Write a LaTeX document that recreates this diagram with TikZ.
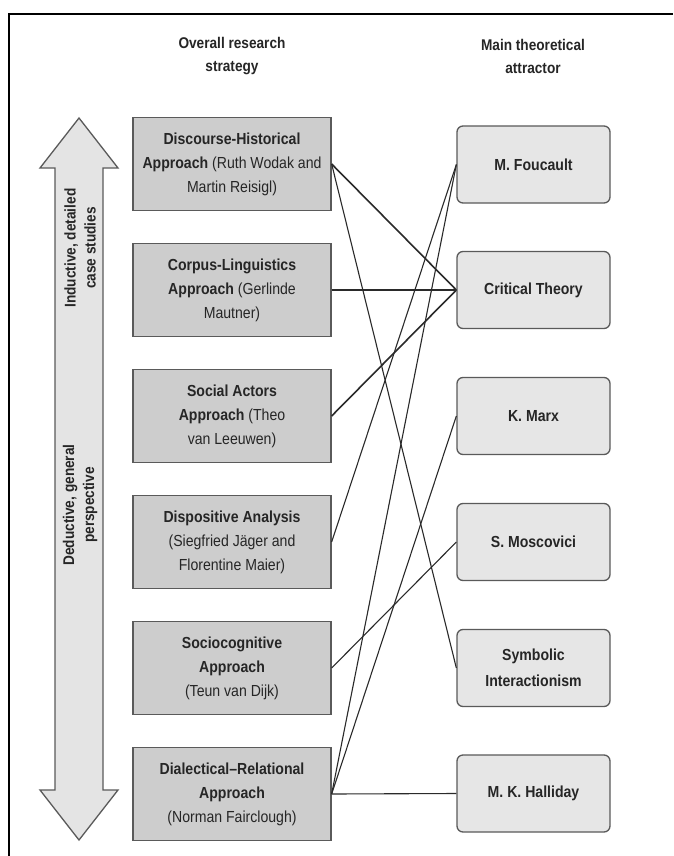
\documentclass[tikz,border=0pt]{standalone}
\usepackage{fontspec}
\setmainfont{Liberation Sans}[FakeStretch=0.88]
\definecolor{boxline}{HTML}{5A5A5A}
\definecolor{lboxfill}{HTML}{CDCDCD}
\definecolor{rboxfill}{HTML}{E6E6E6}
\definecolor{arrowfill}{HTML}{E4E4E4}
\definecolor{txt}{HTML}{262626}
\definecolor{conn}{HTML}{2A2A2A}
\begin{document}
\begin{tikzpicture}[x=1pt,y=-1pt,
  lbox/.style={draw=boxline, fill=lboxfill, line width=1.3pt, minimum width=198pt, minimum height=93pt, inner sep=0pt, align=center, text=txt, font=\fontsize{16}{24}\selectfont},
  rbox/.style={draw=boxline, fill=rboxfill, line width=1.3pt, rounded corners=6pt, minimum width=153pt, minimum height=77pt, inner sep=0pt, align=center, text=txt, font=\fontsize{16}{26}\selectfont\bfseries},
  head/.style={align=center, text=txt, font=\fontsize{15.5}{23}\selectfont\bfseries},
  arrowtext/.style={rotate=90, align=center, text=txt, font=\fontsize{15.5}{20}\selectfont\bfseries},
  thickconn/.style={draw=conn, line width=1.6pt},
  thinconn/.style={draw=conn, line width=1.1pt}]
\useasboundingbox (0,0) rectangle (673,856);
\fill[white] (0,0) rectangle (673,856);
% frame
\draw[line width=2.5pt, black] (9,856) -- (9,14) -- (673,14);
% headers
\node[head] (h1) at (232,56) {Overall research\\strategy};
\node[head] (h2) at (533,56) {Main theoretical\\attractor};
% double arrow
\draw[draw=boxline, fill=arrowfill, line width=1.3pt, line join=miter]
  (79,118) -- (118,168) -- (103,168) -- (103,790) -- (118,790) -- (79,840)
  -- (40,790) -- (55,790) -- (55,168) -- (40,168) -- cycle;
\node[arrowtext] (a1) at (80,248) {Inductive, detailed\\case studies};
\node[arrowtext] (a2) at (80,505) {Deductive, general\\perspective};
% left boxes
\node[lbox] (L1) at (232,164) {\bfseries Discourse-Historical\\\bfseries Approach \mdseries(Ruth Wodak and\\Martin Reisigl)};
\node[lbox] (L2) at (232,290) {\bfseries Corpus-Linguistics\\\bfseries Approach \mdseries(Gerlinde\\Mautner)};
\node[lbox] (L3) at (232,416) {\bfseries Social Actors\\\bfseries Approach \mdseries(Theo\\van Leeuwen)};
\node[lbox] (L4) at (232,542) {\bfseries Dispositive Analysis\\(Siegfried Jäger and\\Florentine Maier)};
\node[lbox] (L5) at (232,668) {\bfseries Sociocognitive\\\bfseries Approach\\(Teun van Dijk)};
\node[lbox] (L6) at (232,794) {\bfseries Dialectical–Relational\\\bfseries Approach\\(Norman Fairclough)};
% right boxes
\node[rbox] (R1) at (533.5,164.5) {M. Foucault};
\node[rbox] (R2) at (533.5,290) {Critical Theory};
\node[rbox] (R3) at (533.5,416) {K. Marx};
\node[rbox] (R4) at (533.5,542) {S. Moscovici};
\node[rbox] (R5) at (533.5,668) {Symbolic\\Interactionism};
\node[rbox] (R6) at (533.5,793.5) {M. K. Halliday};
% connectors
\draw[thickconn] (L1.east) -- (R2.west);
\draw[thinconn] (L1.east) -- (R5.west);
\draw[thickconn] (L2.east) -- (R2.west);
\draw[thickconn] (L3.east) -- (R2.west);
\draw[thinconn] (L4.east) -- (R1.west);
\draw[thinconn] (L5.east) -- (R4.west);
\draw[thinconn] (L6.east) -- (R1.west);
\draw[thinconn] (L6.east) -- (R3.west);
\draw[thinconn] (L6.east) -- (R6.west);
\end{tikzpicture}
\end{document}
